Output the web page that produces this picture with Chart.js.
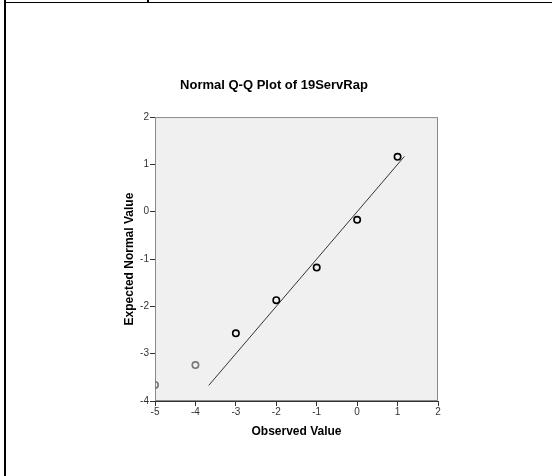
<!DOCTYPE html>
<html>
<head>
<meta charset="utf-8">
<script src="https://cdn.jsdelivr.net/npm/chart.js@4/dist/chart.umd.min.js"></script>
<style>
    body { margin: 0; background: #fff; }
    #wrap { position: relative; width: 552px; height: 476px; overflow: hidden; }
    #qq { position: absolute; left: 0; top: 0; }
    .rule { position: absolute; background: #000; }
</style>
</head>
<body>
<div id="wrap">
    <div class="rule" style="left:4px; top:2px; width:548px; height:1px;"></div>
    <div class="rule" style="left:4px; top:0; width:2px; height:476px;"></div>
    <div class="rule" style="left:147px; top:0; width:2px; height:3px;"></div>
    <canvas id="qq" width="552" height="476"></canvas>
</div>
<script>
// beobachtete Werte und erwartete Normalwerte
var observed = [-5, -4, -3, -2, -1, 0, 1];
var expected = [-3.66, -3.24, -2.57, -1.87, -1.18, -0.17, 1.16];
var pointColors = ["#777", "#777", "#000", "#000", "#000", "#000", "#000"];

// Referenzlinie y = x
var lineX = [-3.67, 1.17];
var lineY = [-3.67, 1.17];

var xTicks = [-5, -4, -3, -2, -1, 0, 1, 2];
var yTicks = [-4, -3, -2, -1, 0, 1, 2];

var punkte = [];
observed.forEach((wert, i) => {
    punkte.push({ x: wert, y: expected[i] });
});

var linie = [];
lineX.forEach((wert, i) => {
    linie.push({ x: wert, y: lineY[i] });
});

// grauer Hintergrund und Rahmen des Plotbereichs
const rahmen = {
    id: "rahmen",
    beforeDatasetsDraw(chart) {
        const { ctx, chartArea: a } = chart;
        ctx.save();
        ctx.fillStyle = "#f0f0f0";
        ctx.fillRect(a.left, a.top, a.right - a.left, a.bottom - a.top);
        ctx.strokeStyle = "#8a8a8a";
        ctx.lineWidth = 1;
        ctx.strokeRect(a.left + 0.5, a.top + 0.5, a.right - a.left - 1, a.bottom - a.top - 1);
        ctx.restore();
    },
};

const tickFont = { family: "Liberation Sans, Arial", size: 10 };
const titelFont = { family: "Liberation Sans, Arial", size: 12, weight: "bold" };

new Chart(document.getElementById("qq"), {
    type: "scatter",
    data: {
        datasets: [
            {
                type: "line",
                data: linie,
                borderColor: "#333",
                borderWidth: 1,
                pointRadius: 0,
                fill: false,
                order: 2,
            },
            {
                data: punkte,
                pointStyle: "circle",
                pointRadius: 3.2,
                borderWidth: 1.6,
                borderColor: pointColors,
                backgroundColor: "rgba(0,0,0,0)",
                clip: 0,
                order: 1,
            },
        ],
    },
    plugins: [rahmen],
    options: {
        responsive: false,
        animation: false,
        events: [],
        layout: { padding: { left: 110, right: 114, top: 0, bottom: 25 } },
        plugins: {
            legend: { display: false },
            tooltip: { enabled: false },
            title: {
                display: true,
                text: "Normal Q-Q Plot of 19ServRap",
                color: "#000",
                font: { family: "Liberation Sans, Arial", size: 13, weight: "bold" },
                padding: { top: 77.5, bottom: 24 },
            },
        },
        scales: {
            x: {
                type: "linear",
                min: -5,
                max: 2,
                afterBuildTicks: (s) => { s.ticks = xTicks.map((v) => ({ value: v })); },
                afterFit: (s) => { s.height = 50; },
                ticks: { color: "#333", font: tickFont, padding: 0, maxRotation: 0 },
                grid: { drawOnChartArea: false, tickLength: 5, color: "#333" },
                border: { color: "#333", width: 1 },
                title: {
                    display: true,
                    text: "Observed Value",
                    color: "#000",
                    font: titelFont,
                    padding: { top: 0, bottom: 11.8 },
                },
            },
            y: {
                type: "linear",
                min: -4,
                max: 2,
                afterBuildTicks: (s) => { s.ticks = yTicks.map((v) => ({ value: v })); },
                afterFit: (s) => { s.width = 45; },
                ticks: { color: "#333", font: tickFont, padding: 1 },
                grid: { drawOnChartArea: false, tickLength: 5, color: "#333" },
                border: { color: "#333", width: 1 },
                title: {
                    display: true,
                    text: "Expected Normal Value",
                    color: "#000",
                    font: titelFont,
                    padding: { top: 12.8, bottom: 0 },
                },
            },
        },
    },
});
</script>
</body>
</html>
